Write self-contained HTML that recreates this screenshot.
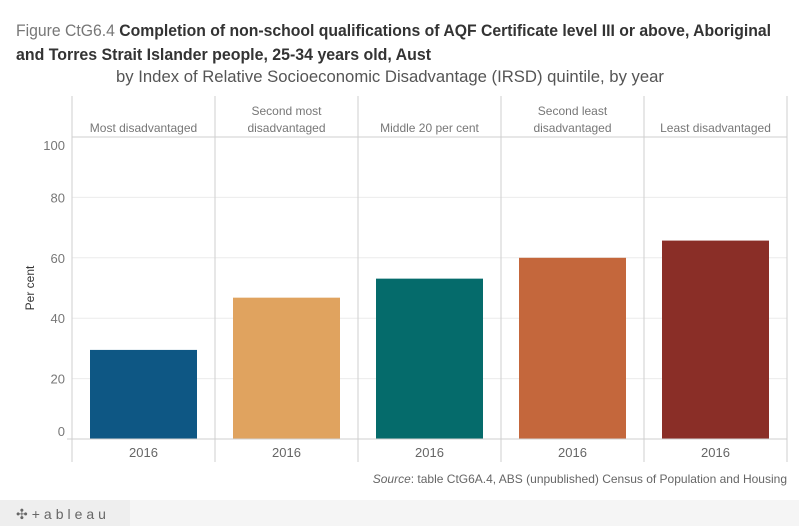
<!DOCTYPE html>
<html><head><meta charset="utf-8"><style>
html,body{margin:0;padding:0;background:#fff;}
svg{display:block;font-family:"Liberation Sans",sans-serif;}
</style></head><body>
<svg id="chart" width="799" height="526" viewBox="0 0 799 526" xmlns="http://www.w3.org/2000/svg">
<text x="16" y="36" font-size="17" textLength="755" lengthAdjust="spacingAndGlyphs"><tspan fill="#777">Figure CtG6.4 </tspan><tspan fill="#333" font-weight="bold">Completion of non-school qualifications of AQF Certificate level III or above, Aboriginal</tspan></text>
<text x="16" y="60" font-size="17" fill="#333" font-weight="bold" textLength="415" lengthAdjust="spacingAndGlyphs">and Torres Strait Islander people, 25-34 years old, Aust</text>
<text x="116" y="82" font-size="17" fill="#555" textLength="548" lengthAdjust="spacingAndGlyphs">by Index of Relative Socioeconomic Disadvantage (IRSD) quintile, by year</text>
<g id="grid"></g>
<g id="bars"></g>
<g id="frame"></g>
<text transform="translate(34,288) rotate(-90)" text-anchor="middle" font-size="12" fill="#333">Per cent</text>
<text x="787" y="483" text-anchor="end" font-size="12" fill="#666"><tspan font-style="italic">Source</tspan>: table CtG6A.4, ABS (unpublished) Census of Population and Housing</text>
<rect x="0" y="500" width="799" height="26" fill="#f5f5f5"/>
<rect x="0" y="500" width="130" height="26" fill="#eeeeee"/>
<text x="16" y="519" font-size="14" fill="#666" letter-spacing="4">✣+ableau</text>
</svg>
<script>
const categories = ["Most disadvantaged","Second most|disadvantaged","Middle 20 per cent","Second least|disadvantaged","Least disadvantaged"];
const values = [29.5, 46.8, 53.1, 60.0, 65.7];
const colors = ["#0e5784","#e0a35f","#056b6b","#c4673c","#8a2e27"];
const years = ["2016","2016","2016","2016","2016"];
const yTicks = [0,20,40,60,80,100];

const NS="http://www.w3.org/2000/svg";
const plotL=72, plotR=787, plotT=137, plotB=439, ymax=100;
const pw=(plotR-plotL)/categories.length;
function yScale(v){return plotB-(v/ymax)*(plotB-plotT);}
function mk(tag,attrs,parent,txt){const e=document.createElementNS(NS,tag);for(const k in attrs)e.setAttribute(k,attrs[k]);if(txt!==undefined)e.textContent=txt;parent.appendChild(e);return e;}
const gridG=document.getElementById('grid'),barsG=document.getElementById('bars'),frameG=document.getElementById('frame');
yTicks.forEach(t=>{
  const yy=yScale(t);
  if(t>0&&t<100){const l=mk('line',{x1:plotL,x2:plotR,y1:yy,y2:yy,stroke:'#ececec','stroke-width':1},gridG);
  
  }
  let ly=yy+5; if(t===0) ly=yy-3; if(t===100) ly=yy+13;
  const tx=mk('text',{x:65,y:ly,'text-anchor':'end','font-size':13,fill:'#777'},gridG,String(t));
  
  
});
categories.forEach((c,i)=>{
  const x0=plotL+i*pw;
  const r=mk('rect',{x:x0+18,y:yScale(values[i]),width:pw-36,height:plotB-yScale(values[i]),fill:colors[i]},barsG);
  
  
  const lines=c.split('|');
  lines.forEach((ln,j)=>{
    const t=mk('text',{x:x0+pw/2,y:(lines.length===2?115:132)+j*17,'text-anchor':'middle','font-size':12,fill:'#777'},frameG,ln);
    
    
  });
  const yt=mk('text',{x:x0+pw/2,y:457,'text-anchor':'middle','font-size':13,fill:'#666'},frameG,years[i]);
  
  
});
for(let i=0;i<=categories.length;i++){
  const x=plotL+i*pw;
  const l=mk('line',{x1:x,x2:x,y1:96,y2:462,stroke:'#cfcfcf','stroke-width':1},frameG);
  
  
}
const h=mk('line',{x1:plotL,x2:plotR,y1:plotT,y2:plotT,stroke:'#cfcfcf'},frameG);


const xa=mk('line',{x1:67,x2:plotR,y1:plotB,y2:plotB,stroke:'#cfcfcf'},frameG);


</script>
</body></html>
